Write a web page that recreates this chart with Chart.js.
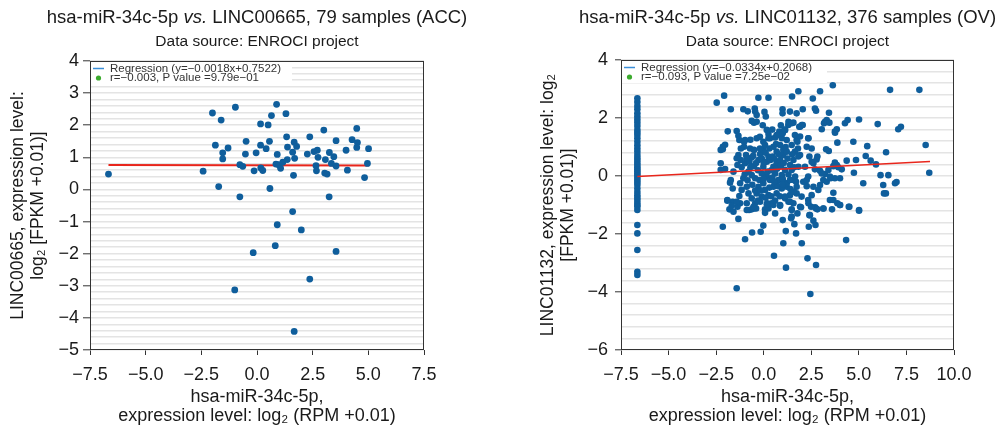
<!DOCTYPE html>
<html>
<head>
<meta charset="utf-8">
<script src="https://cdn.jsdelivr.net/npm/chart.js@4.4.1/dist/chart.umd.min.js"></script>
<style>
  body { margin: 0; background: #fff; }
  #wrap { position: relative; width: 1001px; height: 427px; }
  canvas { position: absolute; top: 0; }
</style>
</head>
<body>
<div id="wrap">
  <canvas id="accChart" width="500" height="427" style="left:0"></canvas>
  <canvas id="ovChart" width="501" height="427" style="left:500px"></canvas>
</div>
<script>
// ACC: hsa-miR-34c-5p vs LINC00665 (x = miRNA log2 RPM, y = lncRNA log2 FPKM)
const accPoints = [
  [-6.67,0.48],[-2.42,0.57],[-2.0,2.38],[-1.61,2.16],[-0.97,2.56],[-1.87,1.38],[-1.54,1.14],[-1.54,0.95],
  [-1.3,1.29],[-1.72,0.09],[-0.77,-0.23],[-0.77,0.77],[-0.64,0.72],[-0.52,1.1],[-0.49,1.5],[-0.13,0.58],
  [-0.04,1.14],[0.16,2.04],[0.16,1.38],[0.17,0.67],[0.26,0.59],[0.41,1.27],[0.5,2.01],[0.56,1.5],
  [0.58,0.03],[0.65,2.3],[0.88,2.65],[0.91,1.09],[0.85,0.79],[0.97,0.77],[1.06,0.66],[1.16,0.85],
  [1.3,2.36],[1.33,1.64],[1.36,0.93],[1.37,1.32],[1.6,1.16],[1.67,1.47],[1.69,0.97],[1.78,1.34],
  [1.64,0.44],[2.26,1.1],[2.37,1.64],[2.56,1.18],[2.71,1.22],[2.74,1.0],[2.65,0.74],[2.67,0.58],
  [3.0,1.85],[3.07,0.93],[3.04,0.51],[3.15,0.48],[3.25,1.15],[3.34,0.81],[3.45,1.02],[3.55,1.52],
  [3.55,0.73],[3.24,-0.23],[4.0,1.22],[4.06,0.6],[4.27,1.55],[4.48,1.9],[4.51,1.46],[4.48,1.31],
  [5.01,1.27],[4.96,0.81],[4.83,0.37],[1.6,-0.69],[0.91,-1.1],[1.99,-1.26],[0.82,-1.75],[-0.17,-1.97],
  [3.55,-1.93],[2.37,-2.79],[-1.0,-3.13],[1.67,-4.42]
];
const accLine = [[-6.67,0.764],[5.01,0.743]];
const accLegend = ['Regression (y=\u22120.0018x+0.7522)', 'r=\u22120.003, P value =9.79e\u221201'];

// OV: hsa-miR-34c-5p vs LINC01132
// samples with no miRNA reads sit at log2(0.01)
const ovZeroX = -6.64;
const ovZeroY = [
  2.68,2.55,2.41,2.3,2.16,2.05,1.95,1.84,1.72,1.59,1.5,1.41,1.3,1.18,1.06,0.95,0.84,0.72,0.63,0.55,
  0.46,0.38,0.3,0.23,0.16,0.09,0.02,-0.06,-0.14,-0.22,-0.31,-0.43,-0.55,-0.66,-0.75,-0.83,-0.92,-1.0,
  -1.06,-1.17,-1.69,-1.98,-2.55,-3.3,-3.41
];
const ovPoints = [
  [-2.47,2.53],[-2.08,2.77],[-1.73,2.30],[-1.07,2.30],[-0.84,2.23],[-0.47,2.33],[-0.28,2.70],[0.04,2.21],
  [0.25,2.70],[0.11,2.05],[-1.89,1.54],[-2.03,1.08],[-2.15,0.92],[-2.26,0.44],[-2.26,0.21],[-2.03,0.24],
  [-1.77,-0.23],[-1.42,1.55],[-1.33,1.39],[-1.28,1.24],[-0.98,1.24],[-1.03,1.01],[-0.63,1.90],[-0.51,1.84],
  [-0.37,1.30],[-0.02,1.18],[0.16,1.59],[0.25,1.45],[0.33,1.30],[0.6,1.33],[0.82,1.53],
  [1.49,2.74],[1.82,2.92],[2.58,2.67],[2.96,2.92],[3.63,3.13],[6.64,2.97],[8.18,2.97],
  [2.69,2.33],[2.75,2.25],[3.43,2.18],[2.05,2.30],[1.38,2.22],[1.73,2.16],[0.99,2.30],[0.99,2.16],
  [3.22,1.87],[3.31,1.93],[3.05,1.61],[3.74,1.53],[3.87,1.15],[4.27,1.82],[4.41,1.93],[5.01,1.95],
  [5.99,1.79],[7.07,1.61],[7.21,1.70],[8.51,1.07],[4.71,1.18],[5.44,1.03],[6.43,0.82],[5.36,0.69],
  [5.62,0.53],[5.9,0.40],[4.85,0.55],[4.36,0.53],[4.74,0.11],[5.23,-0.25],[6.14,0.03],[6.55,0.03],
  [6.28,-0.31],[6.32,-0.6],[6.42,-0.6],[6.9,-0.25],[6.98,-0.21],[8.7,0.11],
  [3.66,-0.58],[3.48,-0.83],[4.01,-1.0],[4.5,-1.06],[5.01,-1.17],[3.13,-1.12],[2.75,-1.12],[2.43,-1.35],
  [1.91,-1.06],[1.47,-1.15],[1.47,-1.4],[2.61,0.44],[2.69,0.23],[2.96,0.18],[3.22,0.07],[3.4,0.21],
  [3.66,0.34],[3.74,0.46],[3.92,0.30],[4.1,0.23],[4.01,-0.08],[3.74,-0.08],[3.48,-0.02],[3.13,-0.14],
  [3.31,-0.2],[2.96,-0.31],[2.87,-0.48],[2.61,-0.37],[2.26,-0.35],[2.08,-0.2],[2.34,-0.02],[2.17,0.32],
  [2.52,0.49],[2.78,0.57],[2.40,0.67],[1.91,0.72],[1.64,0.84],[2.26,1.01],[2.52,0.95],[1.03,0.90],
  [1.21,1.24],[1.73,1.24],[1.47,1.07],[1.64,1.41],[2.34,1.3],[1.12,1.59],[1.29,1.76],[1.56,1.84],
  [1.91,1.70],[2.05,1.76],[0.86,1.41],[1.03,-0.2],[1.21,-0.37],[1.56,-0.14],[1.38,-0.66],[1.73,-0.6],
  [1.99,-0.71],[1.12,-0.77],[2.34,-0.83],[2.52,-0.66],
  [2.82,0.67],[3.28,0.92],[3.42,0.86],[3.05,0.09],[3.84,0.38],[3.52,-0.08],[2.26,-0.14],[3.17,1.82],
  [3.45,1.84],[3.84,1.61],[3.75,1.49],[2.35,1.30],[1.87,1.70],[2.0,1.76],[1.91,1.36],[1.77,1.18],
  [1.30,1.87],[1.47,1.82],[1.09,1.59],
  [-2.15,-1.75],[-1.91,-0.85],[-1.80,-1.15],[-1.59,-1.23],[-1.38,-1.06],[-1.33,-1.48],[-0.98,-2.18],[-0.61,-1.95],
  [-0.77,-1.17],[-0.63,-1.15],[-0.51,-1.12],[-0.4,-1.12],[-0.16,-1.92],[-0.02,-1.71],[0.07,-1.15],[0.07,-1.27],
  [0.19,-0.94],[-1.42,-3.87],[0.51,-1.0],[0.6,-1.29],[0.54,-2.75],[1.0,-1.52],[1.03,-2.32],[1.16,-1.9],
  [1.17,-3.16],[1.47,-1.17],[1.44,-1.46],[1.61,-1.66],[1.7,-1.98],[1.77,-1.29],[1.96,-1.08],[2.0,-2.32],
  [2.3,-2.84],[2.37,-1.75],[2.4,-1.35],[2.61,-1.54],[2.72,-1.69],[2.75,-3.07],[2.45,-4.07],[2.7,-1.08],
  [2.82,-1.15],[3.14,-1.12],[3.59,-1.15],[4.47,-1.06],[5.01,-1.2],[4.33,-2.21],[0.86,-1.03],[1.3,-0.89],
  [1.56,-0.94],[2.35,-0.94],[2.49,-1.06],[3.66,-0.83],[3.87,-0.94],[4.01,-1.0],[-1.63,-0.89],[-1.24,-0.94],
  [-0.19,-0.89],[0.25,-1.12],[-0.45,-0.94],
  [-2.15,1.01],[-2.26,0.9],[-1.59,0.15],[-1.73,-0.14],[-1.63,-0.43],[-1.91,-0.83],[-1.68,-1.03],[-1.03,1.18],
  [-1.33,0.72],[-1.42,0.61],[-1.21,0.55],[-1.38,0.38],[-1.16,0.30],[-0.93,0.72],[-0.98,0.44],[-1.07,-0.08],
  [-1.24,-0.25],[-1.16,-0.48],[-1.28,-0.69],[-1.42,-0.89],[-0.89,-0.37],[-0.8,-0.6],[-0.63,-0.77],[-0.54,-1.06],
  [-0.45,2.22],[-0.37,2.10],[-0.37,1.87],[-0.51,0.9],[-0.72,0.95],[-0.63,0.64],[-0.75,0.49],[-0.51,0.34],
  [-0.28,0.55],[-0.19,0.76],[-0.02,0.90],[0.07,1.07],[0.25,1.30],[0.25,0.67],[0.16,0.49],[-0.02,0.32],
  [-0.1,0.09],[-0.23,-0.14],[-0.02,-0.25],[0.16,-0.02],[0.33,-0.14],[0.07,-0.48],[0.25,-0.66],[-0.1,-0.71],
  [-0.37,-0.6],[-0.28,-0.37],[-0.45,-0.08],[-0.63,0.03],[-0.8,0.15],[0.51,1.01],[0.47,0.67],[0.68,0.84],
  [0.86,1.07],[0.95,1.30],[1.0,1.47],[1.12,1.59],[0.68,1.41],[0.51,0.32],[0.68,0.44],[0.86,0.55],
  [1.03,0.72],[1.21,0.84],[0.6,0.09],[0.77,-0.14],[0.95,0.03],[1.12,0.21],[1.38,0.38],[1.56,0.55],
  [1.47,0.21],[0.51,-0.37],[0.68,-0.6],[0.95,-0.43],[1.12,-0.71],[1.21,-0.25],[1.38,-0.14],[1.65,-0.02],
  [1.73,-0.37],[1.56,-0.54],[1.82,0.32],[1.82,0.67],[0.42,-0.94],[0.86,-1.0],[1.38,-0.89],[0.16,-0.97],
  [-0.89,-0.94],[-0.89,-1.17],
  [-0.9,0.6],[-0.7,0.3],[-0.55,0.7],[-0.4,0.45],[-0.3,0.2],[-0.2,0.95],[-0.1,0.6],[0.0,0.45],
  [0.1,0.8],[0.2,0.15],[0.3,0.95],[0.35,0.55],[0.4,0.2],[0.45,-0.05],[0.55,0.6],[0.65,1.1],
  [0.7,0.25],[0.75,-0.35],[0.8,0.75],[0.9,0.35],[1.0,-0.1],[1.05,0.45],[1.15,1.0],[1.25,0.6],
  [1.3,0.05],[1.4,-0.45],[1.5,0.75],[1.6,0.3],[1.7,-0.2],[1.8,0.95],[-0.6,-0.3],[-0.45,-0.5],
  [-0.3,-0.85],[-0.15,-0.5],[0.0,-0.1],[0.1,-0.75],[0.3,-0.4],[0.4,-0.7],[0.55,-0.2],[0.6,-0.85],
  [0.85,-0.7],[1.0,-0.3],[-1.0,0.05],[-0.85,-0.15],[-0.2,1.35],[0.45,1.6],[-0.7,1.25],[-1.2,0.95],
  [0.9,1.75],[-0.05,1.75]
];
const ovLine = [[-6.64,-0.015],[8.74,0.499]];
const ovLegend = ['Regression (y=\u22120.0334x+0.2068)', 'r=\u22120.093, P value =7.25e\u221202'];

const xLabel = ['hsa-miR-34c-5p,', 'expression level: log\u2082 (RPM +0.01)'];
const subtitle = 'Data source: ENROCI project';

Chart.defaults.font.family = "'Liberation Sans', Arial, sans-serif";
Chart.defaults.color = '#1a1a1a';

function isInt(v) { return Math.abs(v - Math.round(v)) < 1e-6; }
function minus(s) { return s.replace('-', '\u2212'); }

// titles, axis titles, legend box and frame
const decor = {
  id: 'decor',
  afterDraw(chart, args, o) {
    const ctx = chart.ctx, a = chart.chartArea;
    const cx = (a.left + a.right) / 2, cy = (a.top + a.bottom) / 2;
    const fam = Chart.defaults.font.family;
    ctx.save();
    ctx.fillStyle = '#1a1a1a';
    ctx.textBaseline = 'middle';

    // main title with italic "vs."
    const segs = o.title;
    let total = 0;
    segs.forEach(s => { ctx.font = (s.i ? 'italic ' : '') + '18.5px ' + fam; s.w = ctx.measureText(s.t).width; total += s.w; });
    let x = cx - total / 2;
    ctx.textAlign = 'left';
    segs.forEach(s => { ctx.font = (s.i ? 'italic ' : '') + '18.5px ' + fam; ctx.fillText(s.t, x, 18); x += s.w; });

    ctx.textAlign = 'center';
    ctx.font = '15.5px ' + fam;
    ctx.fillText(subtitle, cx, 42);

    // x title
    ctx.font = '18px ' + fam;
    ctx.fillText(xLabel[0], cx, 397);
    ctx.fillText(xLabel[1], cx, 416);

    // y title
    ctx.font = '17.5px ' + fam;
    o.yTitle.forEach((t, i) => {
      ctx.save();
      ctx.translate(o.yTitleX[i], cy);
      ctx.rotate(-Math.PI / 2);
      ctx.fillText(t, 0, 0);
      ctx.restore();
    });

    // legend
    ctx.fillStyle = '#fff';
    ctx.fillRect(a.left + 1, a.top + 1, o.legendW, 22);
    ctx.strokeStyle = '#3b8fd8';
    ctx.lineWidth = 1.5;
    ctx.beginPath();
    ctx.moveTo(a.left + 3, a.top + 7.5);
    ctx.lineTo(a.left + 14, a.top + 7.5);
    ctx.stroke();
    ctx.fillStyle = '#3cab2e';
    ctx.beginPath();
    ctx.arc(a.left + 8.5, a.top + 17, 2.6, 0, Math.PI * 2);
    ctx.fill();
    ctx.fillStyle = '#333';
    ctx.textAlign = 'left';
    ctx.font = '11.5px ' + fam;
    ctx.fillText(o.legend[0], a.left + 20, a.top + 8);
    ctx.fillText(o.legend[1], a.left + 20, a.top + 17);

    // frame
    ctx.strokeStyle = '#333';
    ctx.lineWidth = 1;
    ctx.strokeRect(a.left + 0.5, a.top + 0.5, a.right - a.left - 1, a.bottom - a.top - 1);
    ctx.restore();
  }
};

function makeScales(cfg) {
  return {
    x: {
      type: 'linear', min: -7.5, max: cfg.xMax,
      ticks: { stepSize: 2.5, autoSkip: false, maxRotation: 0, padding: 9, font: { size: 18 },
        callback: v => minus((Math.round(v * 10) / 10).toFixed(1)) },
      grid: { drawOnChartArea: false, tickLength: 5, color: '#333', lineWidth: 1 },
      border: { display: false },
      afterFit: s => { s.height = 77; }
    },
    y: {
      type: 'linear', min: cfg.yMin, max: 4,
      ticks: { stepSize: cfg.yStep, autoSkip: false, padding: cfg.yPad, font: { size: 18 },
        callback: v => isInt(v) ? minus(String(Math.round(v))) : '' },
      grid: {
        color: '#e4e4e4', lineWidth: 1.6, tickLength: cfg.yTick,
        tickColor: c => (c.tick && isInt(c.tick.value)) ? '#333' : 'rgba(0,0,0,0)',
        tickWidth: 1
      },
      border: { display: false },
      afterFit: s => { s.width = cfg.yWidth; }
    }
  };
}

function toXY(arr) { return arr.map(p => ({ x: p[0], y: p[1] })); }

new Chart(document.getElementById('accChart'), {
  type: 'scatter',
  data: {
    datasets: [
      { data: toXY(accPoints), backgroundColor: '#0f5e9c', borderWidth: 0, pointRadius: 3.4, order: 0 },
      { type: 'line', data: toXY(accLine), borderColor: '#e8261c', borderWidth: 2, pointRadius: 0, fill: false, order: 1 }
    ]
  },
  options: {
    responsive: false, animation: false,
    layout: { padding: { top: 61, right: 76, left: 0, bottom: 0 } },
    scales: makeScales({ xMax: 7.5, yMin: -5, yStep: 0.2, yWidth: 90, yTick: 7, yPad: 4 }),
    plugins: {
      legend: { display: false }, tooltip: { enabled: false },
      decor: {
        title: [{ t: 'hsa-miR-34c-5p ' }, { t: 'vs.', i: true }, { t: ' LINC00665, 79 samples (ACC)' }],
        yTitle: ['LINC00665, expression level:', 'log\u2082 [FPKM +0.01)]'],
        yTitleX: [18, 38],
        legend: accLegend, legendW: 201
      }
    }
  },
  plugins: [decor]
});

new Chart(document.getElementById('ovChart'), {
  type: 'scatter',
  data: {
    datasets: [
      { data: ovZeroY.map(v => ({ x: ovZeroX, y: v })).concat(toXY(ovPoints)),
        backgroundColor: '#0f5e9c', borderWidth: 0, pointRadius: 3.3, order: 1 },
      { type: 'line', data: toXY(ovLine), borderColor: '#e8261c', borderWidth: 1.5, pointRadius: 0, fill: false, order: 0 }
    ]
  },
  options: {
    responsive: false, animation: false,
    layout: { padding: { top: 60, right: 47, left: 0, bottom: 0 } },
    scales: makeScales({ xMax: 10, yMin: -6, yStep: 0.4, yWidth: 121, yTick: 6, yPad: 7 }),
    plugins: {
      legend: { display: false }, tooltip: { enabled: false },
      decor: {
        title: [{ t: 'hsa-miR-34c-5p ' }, { t: 'vs.', i: true }, { t: ' LINC01132, 376 samples (OV)' }],
        yTitle: ['LINC01132, expression level: log\u2082', '[FPKM +0.01)]'],
        yTitleX: [48, 68],
        legend: ovLegend, legendW: 205
      }
    }
  },
  plugins: [decor]
});
</script>
</body>
</html>
